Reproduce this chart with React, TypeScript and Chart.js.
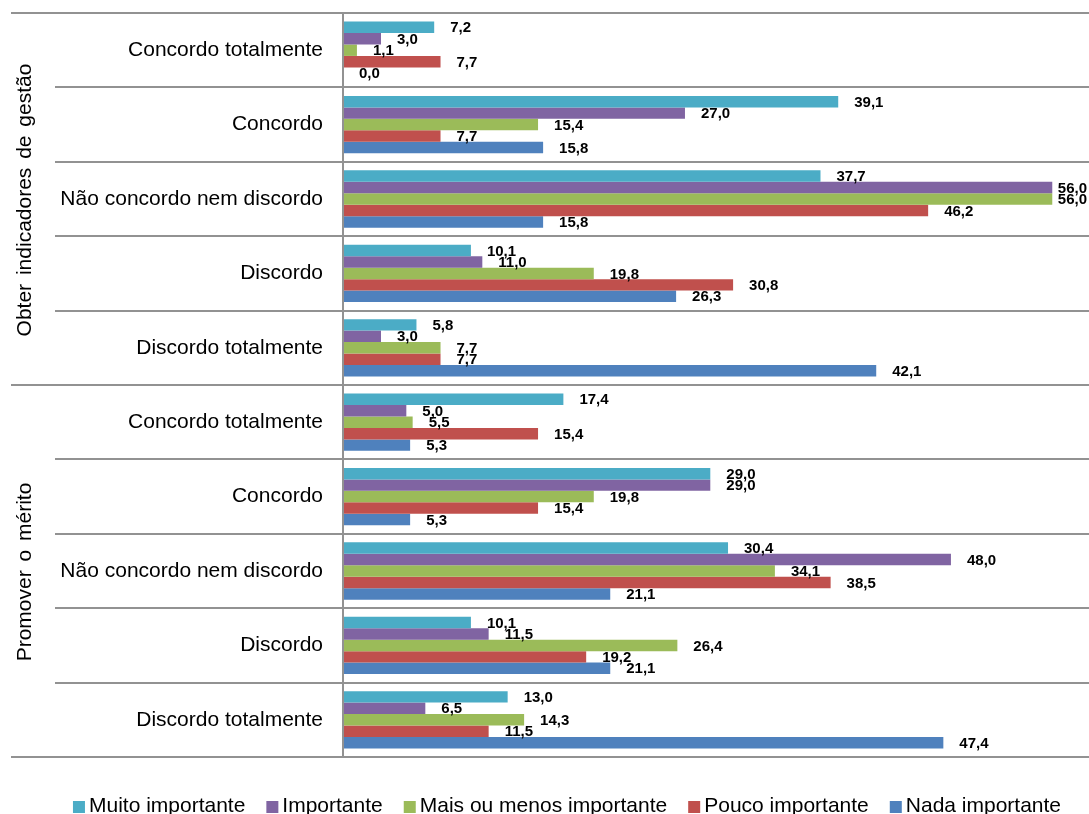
import React, { useEffect, useRef } from 'react';
import { Chart, registerables } from 'chart.js';

Chart.register(...registerables);

const categories = [
  'Concordo totalmente',
  'Concordo',
  'Não concordo nem discordo',
  'Discordo',
  'Discordo totalmente',
  'Concordo totalmente',
  'Concordo',
  'Não concordo nem discordo',
  'Discordo',
  'Discordo totalmente',
];
const groupNames = ['Obter indicadores de gestão', 'Promover o mérito'];
const groupStarts = [0, 5, 10];

const seriesNames = [
  'Muito importante',
  'Importante',
  'Mais ou menos importante',
  'Pouco importante',
  'Nada importante',
];
const muitoImportante = [7.2, 39.1, 37.7, 10.1, 5.8, 17.4, 29.0, 30.4, 10.1, 13.0];
const importante = [3.0, 27.0, 56.0, 11.0, 3.0, 5.0, 29.0, 48.0, 11.5, 6.5];
const maisOuMenos = [1.1, 15.4, 56.0, 19.8, 7.7, 5.5, 19.8, 34.1, 26.4, 14.3];
const poucoImportante = [7.7, 7.7, 46.2, 30.8, 7.7, 15.4, 15.4, 38.5, 19.2, 11.5];
const nadaImportante = [0.0, 15.8, 15.8, 26.3, 42.1, 5.3, 5.3, 21.1, 21.1, 47.4];
const seriesColors = ['#4BACC6', '#8064A2', '#9BBB59', '#C0504D', '#4F81BD'];

const FONT = '"Liberation Sans", Arial, sans-serif';
const LINE_COLOR = '#929292';

const decorPlugin = {
  id: 'decor',
  beforeDatasetsDraw(chart: any) {
    const ctx = chart.ctx;
    const y = chart.scales.y;
    const right = chart.width;
    ctx.save();
    ctx.strokeStyle = LINE_COLOR;
    ctx.lineWidth = 2;
    for (let i = 0; i <= categories.length; i++) {
      const py = Math.round(y.getPixelForValue(i - 0.5));
      const isGroup = groupStarts.includes(i);
      ctx.beginPath();
      ctx.moveTo(isGroup ? 11 : 55, py);
      ctx.lineTo(right, py);
      ctx.stroke();
    }
    ctx.restore();
  },
  afterDatasetsDraw(chart: any) {
    const ctx = chart.ctx;
    const y = chart.scales.y;
    const area = chart.chartArea;
    ctx.save();
    // vertical axis line
    ctx.strokeStyle = LINE_COLOR;
    ctx.lineWidth = 2;
    ctx.beginPath();
    ctx.moveTo(area.left, area.top - 1);
    ctx.lineTo(area.left, area.bottom + 1);
    ctx.stroke();

    // data labels
    ctx.fillStyle = '#000';
    ctx.font = `bold 15px ${FONT}`;
    ctx.textAlign = 'left';
    ctx.textBaseline = 'middle';
    chart.data.datasets.forEach((ds: any, di: number) => {
      const meta = chart.getDatasetMeta(di);
      meta.data.forEach((el: any, i: number) => {
        const v = ds.data[i];
        const txt = v.toFixed(1).replace('.', ',');
        const w = ctx.measureText(txt).width;
        const x = Math.min(el.x + 16, chart.width - w - 2);
        ctx.fillText(txt, x, el.y + 1);
      });
    });

    // group labels (rotated)
    ctx.font = `21px ${FONT}`;
    ctx.textAlign = 'center';
    ctx.textBaseline = 'middle';
    try {
      (ctx as any).wordSpacing = '3px';
    } catch (e) {}
    for (let g = 0; g < groupNames.length; g++) {
      const top = y.getPixelForValue(groupStarts[g] - 0.5);
      const bottom = y.getPixelForValue(groupStarts[g + 1] - 0.5);
      ctx.save();
      ctx.translate(25, (top + bottom) / 2 + 1);
      ctx.rotate(-Math.PI / 2);
      ctx.fillText(groupNames[g], 0, 0);
      ctx.restore();
    }
    try {
      (ctx as any).wordSpacing = '0px';
    } catch (e) {}

    // legend
    ctx.font = `21px ${FONT}`;
    ctx.textAlign = 'left';
    ctx.textBaseline = 'alphabetic';
    const box = 12;
    const gapBox = 4;
    const gapItem = 21;
    const widths = seriesNames.map((n) => ctx.measureText(n).width);
    const total =
      widths.reduce((a, b) => a + b, 0) + seriesNames.length * (box + gapBox) + (seriesNames.length - 1) * gapItem;
    let x = 567 - total / 2;
    const baseY = 812;
    seriesNames.forEach((n, i) => {
      ctx.fillStyle = seriesColors[i];
      ctx.fillRect(x, baseY - 11, box, box);
      x += box + gapBox;
      ctx.fillStyle = '#000';
      ctx.fillText(n, x, baseY);
      x += widths[i] + gapItem;
    });
    ctx.restore();
  },
};

export default function App() {
  const canvasRef = useRef<HTMLCanvasElement | null>(null);

  useEffect(() => {
    if (!canvasRef.current) return;
    const seriesValues = [muitoImportante, importante, maisOuMenos, poucoImportante, nadaImportante];
    const chart = new Chart(canvasRef.current, {
      type: 'bar',
      data: {
        labels: categories,
        datasets: seriesNames.map((name, i) => ({
          label: name,
          data: seriesValues[i],
          backgroundColor: seriesColors[i],
          borderWidth: 0,
          categoryPercentage: 0.77,
          barPercentage: 1.0,
        })),
      },
      options: {
        indexAxis: 'y',
        responsive: false,
        animation: false,
        devicePixelRatio: 1,
        layout: { padding: { top: 13, bottom: 57, left: 0, right: 0 } },
        scales: {
          x: { display: false, min: 0, max: 58.9 },
          y: {
            grid: { display: false, drawTicks: false },
            border: { display: false },
            ticks: {
              padding: 20,
              color: '#000',
              autoSkip: false,
              font: { family: FONT, size: 21 },
            },
            afterFit: (s: any) => {
              s.width = 343;
              s.paddingTop = 0;
              s.paddingBottom = 0;
            },
          },
        },
        plugins: {
          legend: { display: false },
          tooltip: { enabled: false },
        },
      },
      plugins: [decorPlugin],
    } as any);
    return () => chart.destroy();
  }, []);

  return (
    <div style={{ position: 'fixed', left: 0, top: 0, width: 1089, height: 814, background: '#fff' }}>
      <canvas ref={canvasRef} width={1089} height={814} style={{ display: 'block' }} />
    </div>
  );
}
